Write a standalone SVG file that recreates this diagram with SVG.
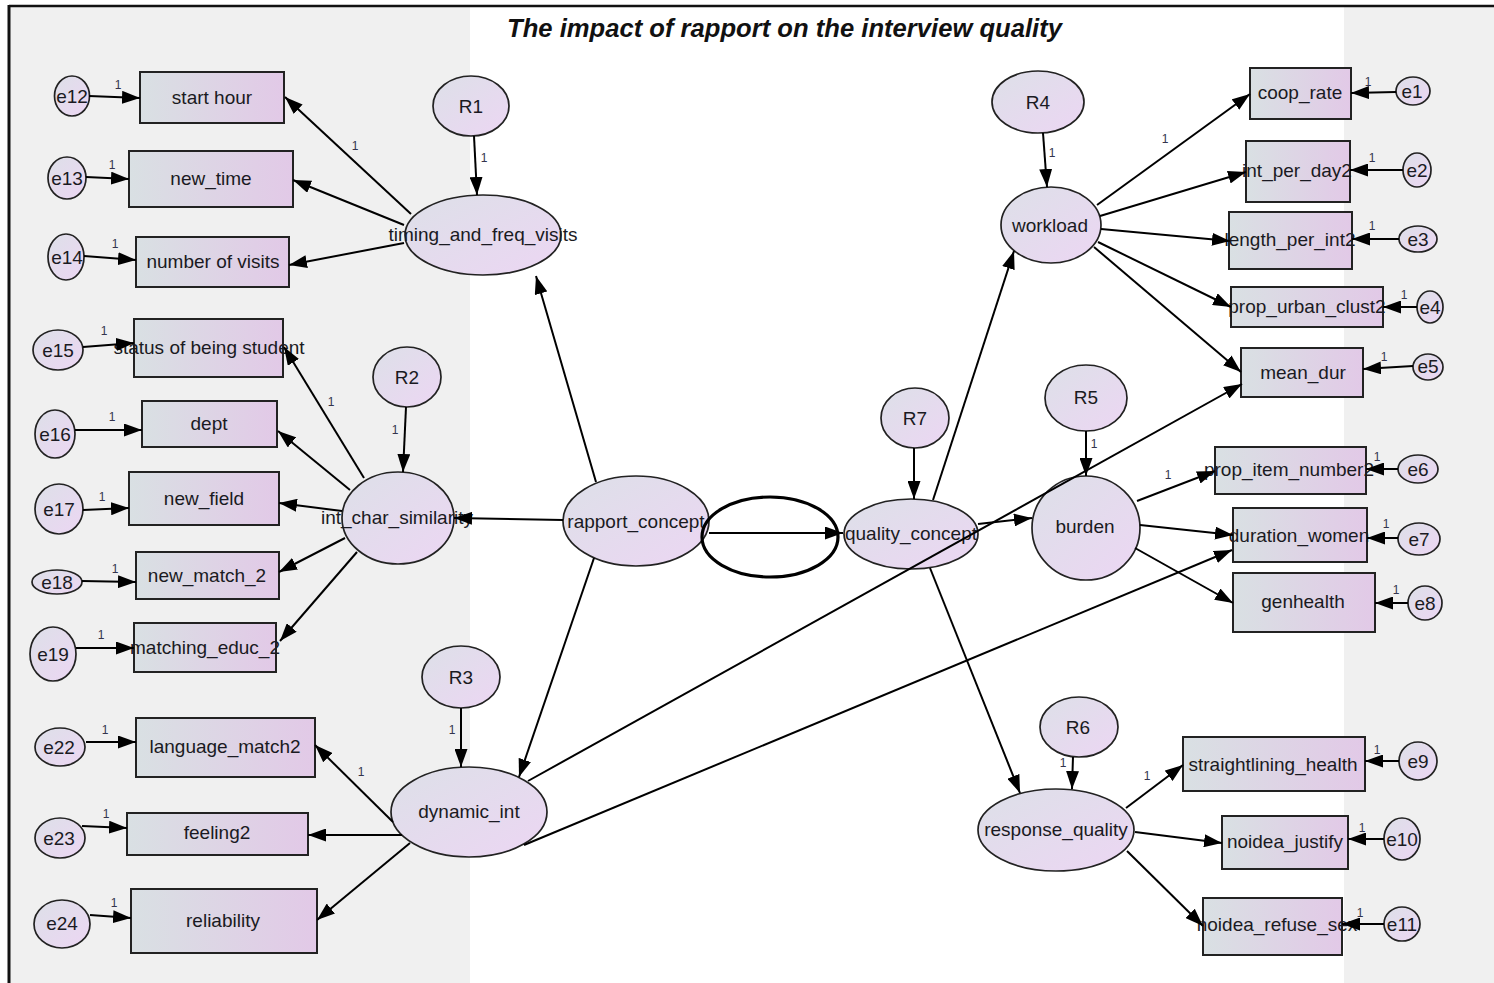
<svg xmlns="http://www.w3.org/2000/svg" width="1494" height="983" viewBox="0 0 1494 983">
  <defs>
    <linearGradient id="boxFill" x1="0" y1="0" x2="1" y2="0">
      <stop offset="0" stop-color="#d9e0e3"/>
      <stop offset="1" stop-color="#e2c9e7"/>
    </linearGradient>
    <linearGradient id="ovalFill" x1="0" y1="0" x2="1" y2="1">
      <stop offset="0" stop-color="#dde0e8"/>
      <stop offset="1" stop-color="#ecd6f3"/>
    </linearGradient>
    <marker id="arrow" markerUnits="userSpaceOnUse" markerWidth="18" markerHeight="13" refX="18" refY="6.5" orient="auto">
      <path d="M0,0 L18,6.5 L0,13 z" fill="#000"/>
    </marker>
  </defs>
  <style>
    .bg { fill: #f0f0f0; }
    .box { fill: url(#boxFill); stroke: #222; stroke-width: 2; }
    .oval { fill: url(#ovalFill); stroke: #222; stroke-width: 1.7; }
    .lbl { font-family: "Liberation Sans", Arial, sans-serif; font-size: 19px; fill: #1a1a22; text-anchor: middle; }
    .one { font-family: "Liberation Sans", Arial, sans-serif; font-size: 12px; fill: #33334d; text-anchor: middle; }
    .title { font-family: "Liberation Sans", Arial, sans-serif; font-size: 25px; font-weight: bold; font-style: italic; fill: #111; }
    .edge { stroke: #000; stroke-width: 2; fill: none; marker-end: url(#arrow); }
  </style>

  <!-- canvas -->
  <rect x="0" y="0" width="1494" height="983" fill="#fff"/>
  <rect class="bg" x="9" y="7" width="461" height="976"/>
  <rect class="bg" x="1344" y="7" width="150" height="976"/>
  <line x1="9" y1="6" x2="1494" y2="6" stroke="#111" stroke-width="2.5"/>
  <line x1="9" y1="5" x2="9" y2="983" stroke="#111" stroke-width="3"/>

  <text class="title" x="507" y="37" textLength="555" lengthAdjust="spacingAndGlyphs">The impact of rapport on the interview quality</text>

  <!-- observed variables and their error terms -->
  <g id="e12"><ellipse class="oval" cx="72" cy="96" rx="17.5" ry="20"/><text class="lbl" x="72" y="103">e12</text></g>
  <g id="start_hour"><rect class="box" x="140" y="72" width="144" height="51"/><text class="lbl" x="212" y="104">start hour</text></g>
  <g id="e13"><ellipse class="oval" cx="67" cy="178" rx="19" ry="21"/><text class="lbl" x="67" y="185">e13</text></g>
  <g id="new_time"><rect class="box" x="129" y="151" width="164" height="56"/><text class="lbl" x="211" y="185">new_time</text></g>
  <g id="e14"><ellipse class="oval" cx="66" cy="257" rx="18" ry="23"/><text class="lbl" x="67" y="264">e14</text></g>
  <g id="number_of_visits"><rect class="box" x="136" y="237" width="153" height="50"/><text class="lbl" x="213" y="268">number of visits</text></g>

  <g id="e15"><ellipse class="oval" cx="58" cy="350" rx="25" ry="20"/><text class="lbl" x="58" y="357">e15</text></g>
  <g id="status_student"><rect class="box" x="134" y="319" width="149" height="58"/><text class="lbl" x="209" y="354">status of being student</text></g>
  <g id="e16"><ellipse class="oval" cx="55" cy="434" rx="20" ry="24"/><text class="lbl" x="55" y="441">e16</text></g>
  <g id="dept"><rect class="box" x="142" y="401" width="135" height="46"/><text class="lbl" x="209" y="430">dept</text></g>
  <g id="e17"><ellipse class="oval" cx="59" cy="509" rx="24" ry="25"/><text class="lbl" x="59" y="516">e17</text></g>
  <g id="new_field"><rect class="box" x="129" y="472" width="150" height="53"/><text class="lbl" x="204" y="505">new_field</text></g>
  <g id="e18"><ellipse class="oval" cx="57" cy="582" rx="25" ry="12"/><text class="lbl" x="57" y="589">e18</text></g>
  <g id="new_match_2"><rect class="box" x="136" y="552" width="143" height="47"/><text class="lbl" x="207" y="582">new_match_2</text></g>
  <g id="e19"><ellipse class="oval" cx="53" cy="654" rx="23" ry="27"/><text class="lbl" x="53" y="661">e19</text></g>
  <g id="matching_educ_2"><rect class="box" x="134" y="623" width="142" height="49"/><text class="lbl" x="205" y="654">matching_educ_2</text></g>

  <g id="e22"><ellipse class="oval" cx="60" cy="747" rx="25" ry="19"/><text class="lbl" x="59" y="754">e22</text></g>
  <g id="language_match2"><rect class="box" x="136" y="718" width="179" height="59"/><text class="lbl" x="225" y="753">language_match2</text></g>
  <g id="e23"><ellipse class="oval" cx="60" cy="838" rx="25" ry="20"/><text class="lbl" x="59" y="845">e23</text></g>
  <g id="feeling2"><rect class="box" x="127" y="813" width="181" height="42"/><text class="lbl" x="217" y="839">feeling2</text></g>
  <g id="e24"><ellipse class="oval" cx="62" cy="924" rx="28" ry="24"/><text class="lbl" x="62" y="930">e24</text></g>
  <g id="reliability"><rect class="box" x="131" y="889" width="186" height="64"/><text class="lbl" x="223" y="927">reliability</text></g>

  <g id="coop_rate"><rect class="box" x="1250" y="68" width="101" height="51"/><text class="lbl" x="1300" y="99">coop_rate</text></g>
  <g id="e1"><ellipse class="oval" cx="1413" cy="91" rx="17" ry="14"/><text class="lbl" x="1412" y="98">e1</text></g>
  <g id="int_per_day2"><rect class="box" x="1246" y="141" width="104" height="61"/><text class="lbl" x="1297" y="177">int_per_day2</text></g>
  <g id="e2"><ellipse class="oval" cx="1417" cy="170" rx="14" ry="17"/><text class="lbl" x="1417" y="177">e2</text></g>
  <g id="length_per_int2"><rect class="box" x="1229" y="212" width="123" height="57"/><text class="lbl" x="1290" y="246">length_per_int2</text></g>
  <g id="e3"><ellipse class="oval" cx="1418" cy="239" rx="19" ry="13"/><text class="lbl" x="1418" y="246">e3</text></g>
  <g id="prop_urban_clust2"><rect class="box" x="1231" y="287" width="152" height="40"/><text class="lbl" x="1307" y="313">prop_urban_clust2</text></g>
  <g id="e4"><ellipse class="oval" cx="1430" cy="307" rx="13" ry="16"/><text class="lbl" x="1430" y="314">e4</text></g>
  <g id="mean_dur"><rect class="box" x="1241" y="348" width="122" height="49"/><text class="lbl" x="1303" y="379">mean_dur</text></g>
  <g id="e5"><ellipse class="oval" cx="1428" cy="367" rx="15" ry="13"/><text class="lbl" x="1428" y="373">e5</text></g>

  <g id="prop_item_number2"><rect class="box" x="1215" y="447" width="151" height="47"/><text class="lbl" x="1289" y="476">prop_item_number2</text></g>
  <g id="e6"><ellipse class="oval" cx="1418" cy="469" rx="20" ry="14"/><text class="lbl" x="1418" y="476">e6</text></g>
  <g id="duration_women"><rect class="box" x="1233" y="508" width="134" height="54"/><text class="lbl" x="1299" y="542">duration_women</text></g>
  <g id="e7"><ellipse class="oval" cx="1419" cy="539" rx="21" ry="16"/><text class="lbl" x="1419" y="546">e7</text></g>
  <g id="genhealth"><rect class="box" x="1233" y="573" width="142" height="59"/><text class="lbl" x="1303" y="608">genhealth</text></g>
  <g id="e8"><ellipse class="oval" cx="1425" cy="603" rx="17" ry="17"/><text class="lbl" x="1425" y="610">e8</text></g>

  <g id="straightlining_health"><rect class="box" x="1183" y="737" width="182" height="54"/><text class="lbl" x="1273" y="771">straightlining_health</text></g>
  <g id="e9"><ellipse class="oval" cx="1418" cy="761" rx="19" ry="19"/><text class="lbl" x="1418" y="768">e9</text></g>
  <g id="noidea_justify"><rect class="box" x="1222" y="816" width="126" height="53"/><text class="lbl" x="1285" y="848">noidea_justify</text></g>
  <g id="e10"><ellipse class="oval" cx="1402" cy="839" rx="18" ry="21"/><text class="lbl" x="1402" y="846">e10</text></g>
  <g id="noidea_refuse_sex"><rect class="box" x="1203" y="898" width="139" height="57"/><text class="lbl" x="1277" y="931">noidea_refuse_sex</text></g>
  <g id="e11"><ellipse class="oval" cx="1402" cy="924" rx="18" ry="17"/><text class="lbl" x="1402" y="931">e11</text></g>

  <!-- latent variables and residuals -->
  <g id="R1"><ellipse class="oval" cx="471" cy="106" rx="38" ry="30"/><text class="lbl" x="471" y="113">R1</text></g>
  <g id="timing_and_freq_visits"><ellipse class="oval" cx="483" cy="235" rx="78" ry="40"/><text class="lbl" x="483" y="241">timing_and_freq_visits</text></g>
  <g id="R2"><ellipse class="oval" cx="407" cy="377" rx="34" ry="30"/><text class="lbl" x="407" y="384">R2</text></g>
  <g id="int_char_similarity"><ellipse class="oval" cx="398" cy="518" rx="56" ry="46"/><text class="lbl" x="397" y="524">int_char_similarity</text></g>
  <g id="R3"><ellipse class="oval" cx="461" cy="677" rx="39" ry="31"/><text class="lbl" x="461" y="684">R3</text></g>
  <g id="dynamic_int"><ellipse class="oval" cx="469" cy="812" rx="78" ry="45"/><text class="lbl" x="469" y="818">dynamic_int</text></g>
  <g id="rapport_concept"><ellipse class="oval" cx="636" cy="521" rx="73" ry="45"/><text class="lbl" x="636" y="528">rapport_concept</text></g>
  <g id="R7"><ellipse class="oval" cx="915" cy="418" rx="34" ry="30"/><text class="lbl" x="915" y="425">R7</text></g>
  <g id="quality_concept"><ellipse class="oval" cx="911" cy="534" rx="67" ry="35"/><text class="lbl" x="911" y="540">quality_concept</text></g>
  <g id="R4"><ellipse class="oval" cx="1038" cy="102" rx="46" ry="31"/><text class="lbl" x="1038" y="109">R4</text></g>
  <g id="workload"><ellipse class="oval" cx="1051" cy="225" rx="50" ry="38"/><text class="lbl" x="1050" y="232">workload</text></g>
  <g id="R5"><ellipse class="oval" cx="1086" cy="398" rx="41" ry="33"/><text class="lbl" x="1086" y="404">R5</text></g>
  <g id="burden"><ellipse class="oval" cx="1086" cy="528" rx="54" ry="52"/><text class="lbl" x="1085" y="533">burden</text></g>
  <g id="R6"><ellipse class="oval" cx="1079" cy="727" rx="39" ry="30"/><text class="lbl" x="1078" y="734">R6</text></g>
  <g id="response_quality"><ellipse class="oval" cx="1056" cy="830" rx="78" ry="41"/><text class="lbl" x="1056" y="836">response_quality</text></g>

  <!-- paths -->
  <g id="connectors">
    <path class="edge" d="M89,96 L140,98"/>
    <path class="edge" d="M86,177 L129,179"/>
    <path class="edge" d="M84,256 L136,260"/>
    <path class="edge" d="M411,214 L285,97"/>
    <path class="edge" d="M404,225 L293,180"/>
    <path class="edge" d="M404,243 L289,265"/>
    <path class="edge" d="M474,136 L477,195"/>
    <path class="edge" d="M596,482 L536,276"/>

    <path class="edge" d="M83,347 L134,343"/>
    <path class="edge" d="M75,430 L142,430"/>
    <path class="edge" d="M83,510 L129,508"/>
    <path class="edge" d="M82,581 L136,582"/>
    <path class="edge" d="M76,648 L134,648"/>
    <path class="edge" d="M364,478 L284,347"/>
    <path class="edge" d="M350,490 L278,431"/>
    <path class="edge" d="M342,511 L279,503"/>
    <path class="edge" d="M345,538 L279,572"/>
    <path class="edge" d="M357,552 L280,641"/>
    <path class="edge" d="M406,407 L403,472"/>
    <path class="edge" d="M563,520 L454,518"/>

    <path class="edge" d="M86,742 L136,742"/>
    <path class="edge" d="M82,826 L127,828"/>
    <path class="edge" d="M90,915 L131,918"/>
    <path class="edge" d="M393,822 L315,745"/>
    <path class="edge" d="M402,835 L308,835"/>
    <path class="edge" d="M410,843 L317,920"/>
    <path class="edge" d="M461,708 L461,767"/>
    <path class="edge" d="M594,558 L519,777"/>
    <path class="edge" d="M528,781 L1242,384"/>
    <path class="edge" d="M524,845 L1232,550"/>

    <path class="edge" d="M709,533 L843,533"/>
    <path class="edge" d="M914,448 L914,499"/>
    <path class="edge" d="M933,500 L1014,251"/>
    <path class="edge" d="M978,524 L1032,518"/>
    <path class="edge" d="M930,568 L1020,793"/>

    <path class="edge" d="M1043,133 L1047,187"/>
    <path class="edge" d="M1097,205 L1250,94"/>
    <path class="edge" d="M1100,216 L1246,172"/>
    <path class="edge" d="M1101,229 L1230,241"/>
    <path class="edge" d="M1098,242 L1231,307"/>
    <path class="edge" d="M1094,247 L1241,372"/>
    <path class="edge" d="M1396,92 L1351,93"/>
    <path class="edge" d="M1403,170 L1350,170"/>
    <path class="edge" d="M1399,239 L1352,239"/>
    <path class="edge" d="M1417,307 L1383,307"/>
    <path class="edge" d="M1413,366 L1363,369"/>

    <path class="edge" d="M1086,431 L1086,476"/>
    <path class="edge" d="M1137,501 L1215,471"/>
    <path class="edge" d="M1140,525 L1233,535"/>
    <path class="edge" d="M1135,548 L1233,603"/>
    <path class="edge" d="M1398,469 L1366,469"/>
    <path class="edge" d="M1398,538 L1367,538"/>
    <path class="edge" d="M1408,603 L1375,603"/>

    <path class="edge" d="M1073,757 L1072,789"/>
    <path class="edge" d="M1126,808 L1183,765"/>
    <path class="edge" d="M1135,832 L1222,843"/>
    <path class="edge" d="M1127,851 L1203,926"/>
    <path class="edge" d="M1399,761 L1365,761"/>
    <path class="edge" d="M1384,839 L1348,839"/>
    <path class="edge" d="M1384,924 L1342,924"/>
  </g>

  <!-- regression weights fixed at 1 -->
  <g id="weights">
    <text class="one" x="118" y="89">1</text>
    <text class="one" x="112" y="169">1</text>
    <text class="one" x="115" y="248">1</text>
    <text class="one" x="355" y="150">1</text>
    <text class="one" x="484" y="162">1</text>
    <text class="one" x="104" y="335">1</text>
    <text class="one" x="112" y="421">1</text>
    <text class="one" x="102" y="501">1</text>
    <text class="one" x="115" y="573">1</text>
    <text class="one" x="101" y="639">1</text>
    <text class="one" x="331" y="406">1</text>
    <text class="one" x="395" y="434">1</text>
    <text class="one" x="105" y="734">1</text>
    <text class="one" x="106" y="818">1</text>
    <text class="one" x="114" y="907">1</text>
    <text class="one" x="361" y="776">1</text>
    <text class="one" x="452" y="734">1</text>
    <text class="one" x="1052" y="157">1</text>
    <text class="one" x="1165" y="143">1</text>
    <text class="one" x="1368" y="86">1</text>
    <text class="one" x="1372" y="162">1</text>
    <text class="one" x="1372" y="230">1</text>
    <text class="one" x="1404" y="299">1</text>
    <text class="one" x="1384" y="361">1</text>
    <text class="one" x="1094" y="448">1</text>
    <text class="one" x="1168" y="479">1</text>
    <text class="one" x="1377" y="461">1</text>
    <text class="one" x="1386" y="528">1</text>
    <text class="one" x="1396" y="594">1</text>
    <text class="one" x="1063" y="767">1</text>
    <text class="one" x="1147" y="780">1</text>
    <text class="one" x="1377" y="754">1</text>
    <text class="one" x="1362" y="832">1</text>
    <text class="one" x="1360" y="917">1</text>
  </g>

  <!-- highlight around the rapport to quality path -->
  <ellipse cx="770" cy="537" rx="68" ry="40" fill="none" stroke="#000" stroke-width="3.2"/>
</svg>
